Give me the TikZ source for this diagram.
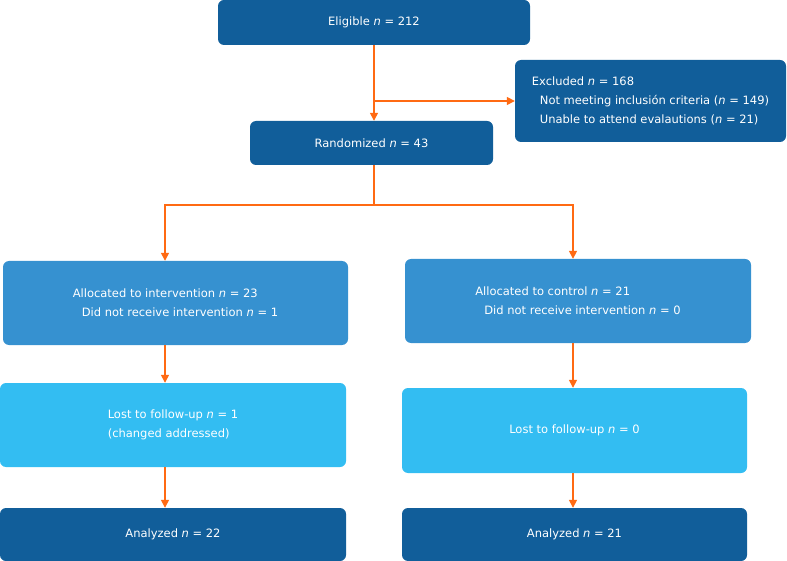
\documentclass[tikz,border=0pt]{standalone}
\usepackage{fontspec}
\setmainfont{DejaVu Sans}
\usepackage{tikz}
\usetikzlibrary{arrows.meta, positioning}
\definecolor{darkbox}{RGB}{17,94,154}
\definecolor{midbox}{RGB}{54,145,208}
\definecolor{lightbox}{RGB}{51,189,242}
\definecolor{flowline}{RGB}{255,106,19}
\tikzset{
        box/.style={rounded corners=6pt, text=white, align=left, inner sep=0pt,
                font=\fontsize{11.5}{19}\selectfont}, % every box of the chart
        darkstep/.style={box, fill=darkbox}, % eligible, randomized, excluded, analyzed
        midstep/.style={box, fill=midbox}, % allocation boxes
        lightstep/.style={box, fill=lightbox}, % follow-up boxes
        flow/.style={draw=flowline, line width=1.5pt,
                -{Triangle[length=8pt,width=8pt]}}, % orange connectors
}
\def\nis#1{\textit{n} = #1}

\begin{document}
\begin{tikzpicture}[x=1pt,y=-1pt]
      \useasboundingbox (0,0) rectangle (787,561);
      % columns of the two arms
      \coordinate (leftcol) at (165,0);
      \coordinate (rightcol) at (573,0);
      \coordinate (split) at (374,205);

      \node[darkstep, minimum width=312pt, minimum height=45pt] (eligible) at (374,22.5) {Eligible \nis{212}};
      \node[darkstep, minimum width=271pt, minimum height=82pt] (excluded) at (650.5,101)
            {Excluded \nis{168}\\
             \hspace{8pt}Not meeting inclusión criteria (\nis{149})\\
             \hspace{8pt}Unable to attend evalautions (\nis{21})};
      \node[darkstep, minimum width=243pt, minimum height=44pt] (randomized) at (371.5,143) {Randomized \nis{43}};

      \node[midstep, minimum width=345pt, minimum height=84pt] (allocint) at (175.5,303)
            {Allocated to intervention \nis{23}\\
             \hspace{9pt}Did not receive intervention \nis{1}};
      \node[midstep, minimum width=346pt, minimum height=84pt] (allocctrl) at (578,301)
            {Allocated to control \nis{21}\\
             \hspace{9pt}Did not receive intervention \nis{0}};

      \node[lightstep, minimum width=346pt, minimum height=84pt] (lostint) at (173,425)
            {Lost to follow-up \nis{1}\\(changed addressed)};
      \node[lightstep, minimum width=345pt, minimum height=85pt] (lostctrl) at (574.5,430.5)
            {Lost to follow-up \nis{0}};

      \node[darkstep, minimum width=346pt, minimum height=53pt] (analint) at (173,534.5) {Analyzed \nis{22}};
      \node[darkstep, minimum width=345pt, minimum height=53pt] (analctrl) at (574.5,534.5) {Analyzed \nis{21}};

      \draw[flow] (eligible.south) -- (eligible.south |- randomized.north);
      \draw[flow] (eligible.south |- excluded.west) -- (excluded.west);
      \draw[draw=flowline, line width=1.5pt] (randomized.south -| split) -- (split);
      \draw[flow] (split) -| (allocint.north -| leftcol);
      \draw[flow] (split) -| (allocctrl.north -| rightcol);
      \draw[flow] (allocint.south -| leftcol) -- (lostint.north -| leftcol);
      \draw[flow] (allocctrl.south -| rightcol) -- (lostctrl.north -| rightcol);
      \draw[flow] (lostint.south -| leftcol) -- (analint.north -| leftcol);
      \draw[flow] (lostctrl.south -| rightcol) -- (analctrl.north -| rightcol);
\end{tikzpicture}
\end{document}
